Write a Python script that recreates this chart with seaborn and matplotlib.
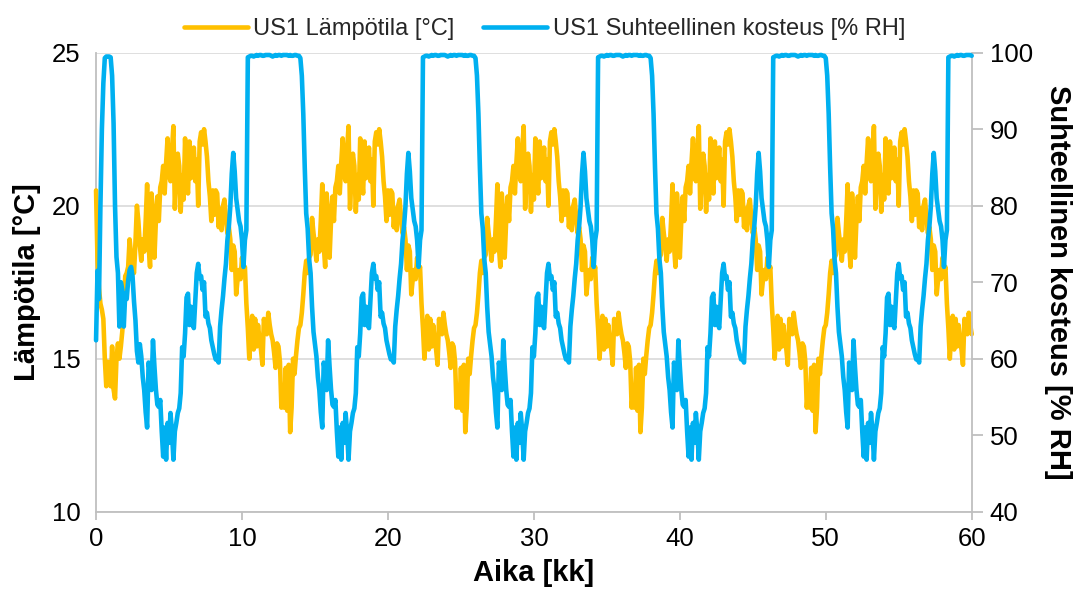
import numpy as np
import pandas as pd
import matplotlib
matplotlib.use("Agg")
import matplotlib.pyplot as plt
import seaborn as sns

# Sampling interval of the series, in months
step = 0.1
n_years = 5

# Start-up of the first simulated year (0.0 ... 2.9 kk)
temp_start = [20.5, 18.2, 17.3, 16.8, 16.6, 16.3, 15.0, 14.1, 14.9, 14.5,
              14.1, 15.4, 14.0, 13.7, 15.0, 15.5, 15.0, 15.4, 15.9, 16.8,
              17.7, 17.8, 18.0, 18.9, 18.4, 18.0, 17.8, 18.8, 20.0, 19.5]
rh_start = [62.4, 71.5, 67.8, 80.0, 90.0, 96.0, 99.3, 99.5, 99.5, 99.5,
            99.4, 97.0, 90.8, 80.0, 73.3, 71.2, 64.2, 70.0, 69.0, 64.2,
            68.5, 67.8, 70.2, 71.6, 72.0, 70.8, 67.5, 65.0, 61.0, 59.5]

# Climate year used for every simulated year (0.0 ... 11.9 kk)
temp_year = [
    15.8, 15.6, 15.2, 14.7, 15.5, 15.4, 14.9, 13.4, 14.0, 13.4,
    14.7, 13.3, 14.8, 12.6, 13.4, 15.0, 14.5, 15.1, 15.6, 16.0,
    16.1, 16.5, 17.1, 17.8, 18.2, 17.8, 18.3, 18.4, 19.6, 19.1,
    18.7, 18.2, 18.9, 18.5, 19.5, 20.7, 18.7, 18.0, 20.4, 19.7,
    18.3, 19.5, 20.3, 19.5, 20.6, 20.8, 21.3, 20.4, 21.4, 22.2,
    21.0, 20.8, 21.8, 22.6, 19.9, 21.0, 21.7, 21.3, 19.8, 21.0,
    20.2, 22.2, 21.0, 20.4, 22.1, 20.9, 21.3, 21.9, 20.8, 21.5,
    20.0, 22.1, 22.4, 22.0, 22.5, 22.1, 21.6, 20.8, 20.3, 19.5,
    20.5, 19.7, 20.5, 20.4, 19.3, 19.9, 19.2, 20.0, 20.2, 19.6,
    19.1, 19.3, 18.9, 17.9, 18.7, 18.5, 17.1, 17.6, 17.9, 17.6,
    18.3, 17.8, 18.0, 16.8, 16.0, 15.0, 15.8, 16.4, 15.3, 16.3,
    15.4, 16.1, 15.6, 15.3, 14.8, 16.3, 16.0, 15.8, 16.5, 16.1,
]
rh_year = [
    99.6, 99.5, 99.6, 99.7, 99.6, 99.7, 99.7, 99.6, 99.7, 99.7,
    99.7, 99.7, 99.6, 99.7, 99.6, 99.6, 99.7, 99.7, 99.6, 99.6,
    99.3, 97.0, 92.0, 85.0, 79.0, 77.0, 73.0, 71.2, 66.8, 63.5,
    61.9, 60.3, 57.6, 55.9, 53.0, 51.0, 59.5, 58.1, 55.9, 62.4,
    59.0, 56.0, 54.0, 53.7, 54.6, 50.5, 47.2, 51.0, 46.8, 51.6,
    49.0, 52.9, 50.5, 46.8, 50.5, 51.6, 52.9, 53.5, 55.5, 61.5,
    60.3, 63.3, 68.0, 68.5, 64.4, 66.8, 64.6, 64.0, 67.5, 71.2,
    72.4, 70.5, 70.8, 69.0, 70.0, 65.5, 66.0, 64.6, 64.0, 62.4,
    61.5, 60.6, 59.9, 60.0, 59.5, 64.2, 66.4, 68.2, 70.5, 72.4,
    75.5, 77.3, 79.9, 84.2, 86.9, 84.5, 81.0, 79.5, 78.0, 77.3,
    75.5, 72.0, 75.5, 76.8, 99.4, 99.5, 99.6, 99.6, 99.5, 99.6,
    99.7, 99.6, 99.7, 99.7, 99.6, 99.6, 99.7, 99.7, 99.7, 99.7,
]

x_ticks = [0, 10, 20, 30, 40, 50, 60]
temp_ticks = [10, 15, 20, 25]
rh_ticks = [40, 50, 60, 70, 80, 90, 100]

label_temp = "US1 Lämpötila [°C]"
label_rh = "US1 Suhteellinen kosteus [% RH]"
x_title = "Aika [kk]"
left_title = "Lämpötila [°C]"
right_title = "Suhteellinen kosteus [% RH]"

c_temp = "#FFC000"
c_rh = "#00B0F0"
c_axis = "#BFBFBF"
c_grid = "#D9D9D9"


def build(start, year):
    """Start-up months followed by the repeated climate year, ending at 60 kk."""
    k = len(start)
    vals = list(start) + list(year[k:]) + list(year) * (n_years - 1) + [year[0]]
    return np.array(vals)


temp = build(temp_start, temp_year)
rh = build(rh_start, rh_year)
months = np.arange(len(temp)) * step
df = pd.DataFrame({"kk": months, "temp": temp, "rh": rh})

sns.set_theme(style="white")
plt.rcParams["font.family"] = ["Liberation Sans", "DejaVu Sans"]

fig = plt.figure(figsize=(10.78, 5.97), dpi=100)
ax = fig.add_axes([0.0891, 0.1429, 0.8123, 0.7688])
ax2 = ax.twinx()

sns.lineplot(data=df, x="kk", y="temp", ax=ax, color=c_temp, lw=3.3,
             label=label_temp, legend=False, clip_on=False, zorder=3)
sns.lineplot(data=df, x="kk", y="rh", ax=ax2, color=c_rh, lw=3.3,
             label=label_rh, legend=False, clip_on=False, zorder=3)

ax.set_xlim(0, 60)
ax.set_ylim(10, 25)
ax2.set_ylim(40, 100)
ax.set_xticks(x_ticks)
ax.set_yticks(temp_ticks)
ax2.set_yticks(rh_ticks)

ax.yaxis.grid(True, color=c_grid, lw=1.2)
ax.xaxis.grid(False)
ax.set_axisbelow(True)

for a in (ax, ax2):
    for s in a.spines.values():
        s.set_visible(False)
ax.spines["bottom"].set_visible(True)
ax.spines["bottom"].set_color(c_axis)
ax.spines["bottom"].set_linewidth(1.3)
ax.spines["left"].set_visible(True)
ax.spines["left"].set_color(c_axis)
ax.spines["left"].set_linewidth(1.3)
ax2.spines["right"].set_visible(True)
ax2.spines["right"].set_color(c_axis)
ax2.spines["right"].set_linewidth(1.3)

ax.tick_params(axis="x", direction="out", length=6, width=1.3, color=c_axis,
               labelsize=18.5, labelcolor="black", pad=5, bottom=True)
ax.tick_params(axis="y", length=0, labelsize=18.5, labelcolor="black", pad=11)
ax2.tick_params(axis="y", direction="out", length=8, width=1.3, color=c_axis,
                labelsize=18.5, labelcolor="black", pad=5, right=True)

ax.set_xlabel(x_title, fontsize=21, fontweight="bold", color="black", labelpad=6)
ax.set_ylabel(left_title, fontsize=21, fontweight="bold", color="black", labelpad=8)
ax2.set_ylabel(right_title, fontsize=21, fontweight="bold", color="black",
               rotation=270, va="bottom", labelpad=8)

h1, l1 = ax.get_legend_handles_labels()
h2, l2 = ax2.get_legend_handles_labels()
fig.legend(h1 + h2, l1 + l2, loc="upper center", bbox_to_anchor=(0.505, 1.005),
           ncol=2, frameon=False, fontsize=17, handlelength=2.7,
           handletextpad=0.25, columnspacing=1.2)

fig.savefig("out.png", dpi=100)
